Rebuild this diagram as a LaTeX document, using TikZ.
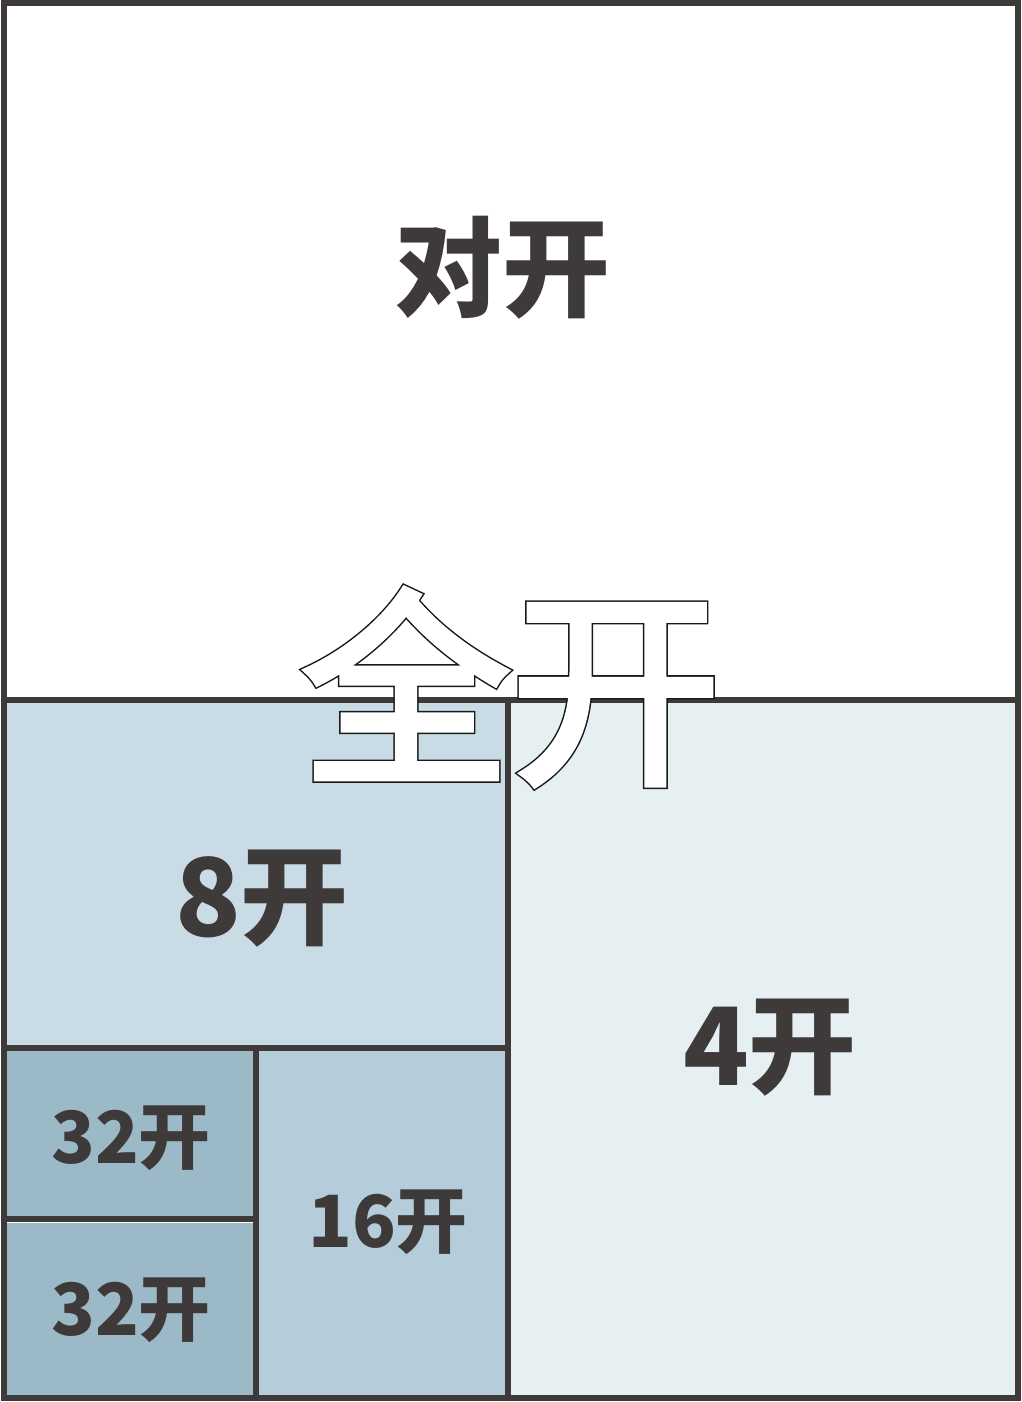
\documentclass[tikz,border=0pt]{standalone}
\usepackage{fontspec}
\newfontfamily\cjk{Noto Sans CJK SC}
\definecolor{ink}{HTML}{3E3A39}
\definecolor{fourc}{HTML}{E6F0F3}
\definecolor{eightc}{HTML}{C9DCE5}
\definecolor{sixteenc}{HTML}{B5CDDB}
\definecolor{thirtytwoc}{HTML}{9BB9C7}
\tikzset{
  divline/.style={draw=ink, line width=6pt},
  biglabel/.style={text=ink, font=\cjk\bfseries\fontsize{108}{108}\selectfont, inner sep=0pt},
  smalllabel/.style={text=ink, font=\cjk\bfseries\fontsize{72}{72}\selectfont, inner sep=0pt},
  hollow/.style={inner sep=0pt, font=\cjk\fontsize{210}{210}\selectfont},
}
\begin{document}
\begin{tikzpicture}[x=1pt,y=-1pt]
\useasboundingbox (0,0) rectangle (1021,1402);
% fills
\fill[white] (4,3) rectangle (1018,700);
\fill[fourc] (508,700) rectangle (1018,1398);
\fill[eightc] (4,700) rectangle (508,1048);
\fill[sixteenc] (256,1048) rectangle (508,1398);
\fill[thirtytwoc] (4,1048) rectangle (256,1398);
% corner coordinates
\coordinate (tl) at (4,3);
\coordinate (tr) at (1018,3);
\coordinate (bl) at (4,1398);
\coordinate (br) at (1018,1398);
\coordinate (ml) at (4,700);
\coordinate (mr) at (1018,700);
\coordinate (mm) at (508,700);
\coordinate (mb) at (508,1398);
\coordinate (el) at (4,1048);
\coordinate (er) at (508,1048);
\coordinate (sm) at (256,1048);
\coordinate (sb) at (256,1398);
\coordinate (tl2) at (4,1219);
\coordinate (tr2) at (256,1219);
\coordinate (wl) at (7,1222.5);
\coordinate (wr) at (253,1222.5);
% thin white line below the 32 divider
\draw[white, line width=1.2pt] (wl) -- (wr);
% lines
\draw[divline] (ml) -- (mr);
\draw[divline] (mm) -- (mb);
\draw[divline] (el) -- (er);
\draw[divline] (sm) -- (sb);
\draw[divline] (tl2) -- (tr2);
\draw[divline] (tl) -- (tr) -- (br) -- (bl) -- cycle;
% labels
\node[biglabel] (half) at (502,268) {对开};
\node[biglabel] (eight) at (262,899) {8开};
\node[biglabel] (four) at (770,1048) {4开};
\node[smalllabel] (tt1) at (131,1138) {32开};
\node[smalllabel] (tt2) at (131,1310) {32开};
\node[smalllabel] (sixteen) at (388,1222) {16开};
% hollow title: dark thick stroke, then white slightly thinner stroke on top
\node[hollow] (fullout) at (511,687)
  {\color{white}\special{pdf:literal direct 2 Tr 9 w 0.1 0.1 0.1 RG}全开\special{pdf:literal direct 0 Tr}};
\node[hollow] (full) at (fullout.center)
  {\color{white}\special{pdf:literal direct 2 Tr 6 w 1 1 1 RG}全开\special{pdf:literal direct 0 Tr}};
\end{tikzpicture}
\end{document}
